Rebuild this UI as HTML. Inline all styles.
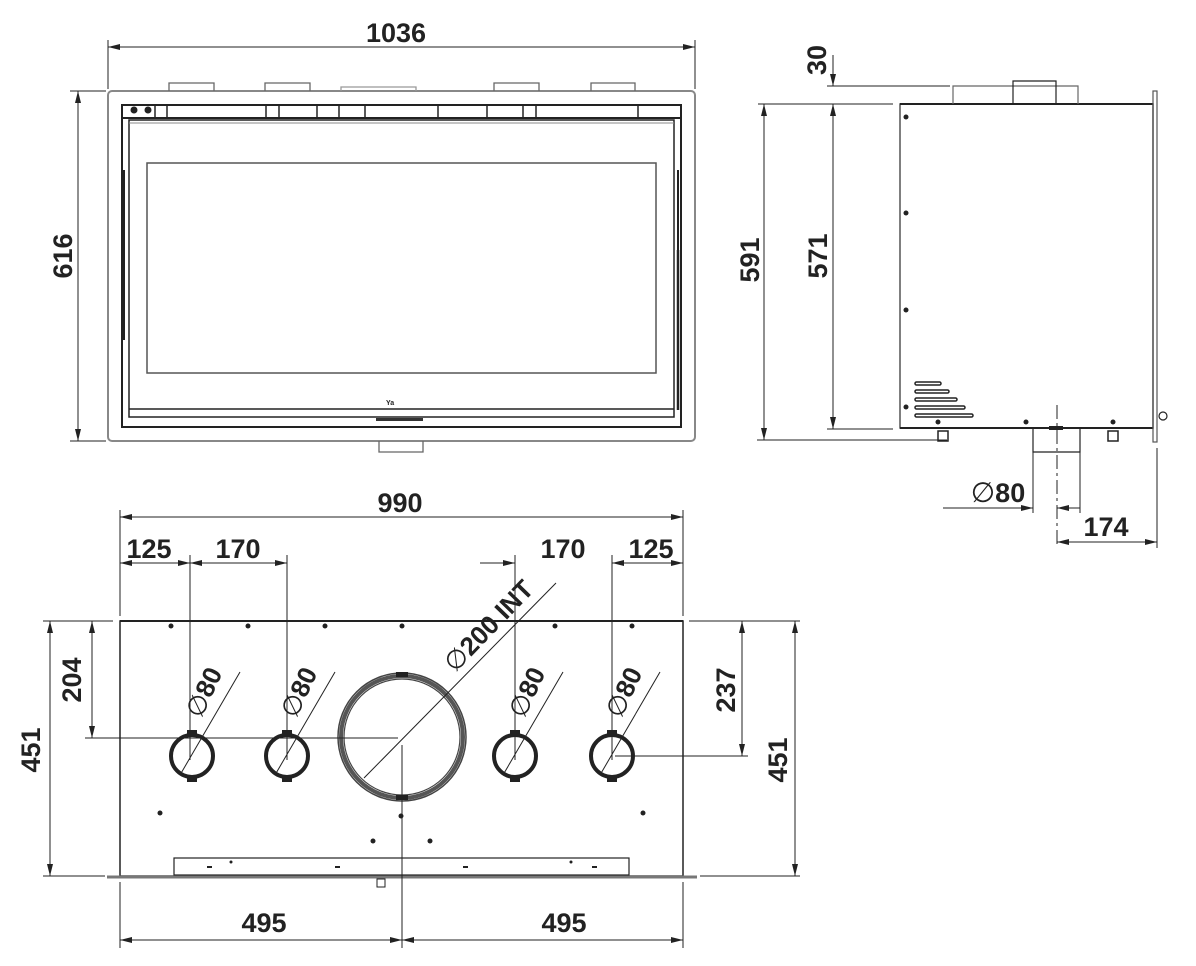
<!DOCTYPE html>
<html><head><meta charset="utf-8"><style>
html,body{margin:0;padding:0;background:#fff}
svg{display:block}
text{font-family:"Liberation Sans",Arial,sans-serif;font-weight:bold;fill:#222}
</style></head><body>
<svg width="1196" height="966" viewBox="0 0 1196 966" xmlns="http://www.w3.org/2000/svg">
<defs>
<marker id="a" viewBox="0 0 12 6" refX="12" refY="3" markerWidth="12" markerHeight="6" orient="auto-start-reverse" markerUnits="userSpaceOnUse"><path d="M0,0 L12,3 L0,6 z" fill="#222"/></marker>
</defs>
<g stroke="#222" stroke-width="1" fill="none">
<rect x="108" y="91" width="587" height="350" rx="4" stroke="#888" stroke-width="2"/>
<g stroke="#666" stroke-width="1.3">
<path d="M169,91 V83 H214 V91"/><path d="M265,91 V83 H310 V91"/>
<path d="M341,91 V87 H416 V91" stroke="#999"/>
<path d="M494,91 V83 H539 V91"/><path d="M591,91 V83 H635 V91"/>
<path d="M379,441 V452 H423 V441"/>
</g>
<rect x="122" y="105" width="559" height="322" stroke-width="2"/>
<rect x="129" y="120" width="545" height="297" stroke-width="1.5"/>
<line x1="122" y1="118" x2="681" y2="118" stroke-width="2"/>
<line x1="129" y1="123" x2="674" y2="123" stroke="#888"/>
<g stroke-width="1.5">
<line x1="155" y1="105" x2="155" y2="118"/><line x1="167" y1="105" x2="167" y2="118"/>
<line x1="266" y1="105" x2="266" y2="118"/><line x1="279" y1="105" x2="279" y2="118"/>
<line x1="317" y1="105" x2="317" y2="118"/><line x1="339" y1="105" x2="339" y2="118"/>
<line x1="365" y1="105" x2="365" y2="118"/><line x1="438" y1="105" x2="438" y2="118"/>
<line x1="487" y1="105" x2="487" y2="118"/><line x1="523" y1="105" x2="523" y2="118"/>
<line x1="536" y1="105" x2="536" y2="118"/><line x1="638" y1="105" x2="638" y2="118"/>
</g>
<rect x="147" y="163" width="509" height="210" stroke="#555" stroke-width="1.5"/>
<line x1="129" y1="409" x2="674" y2="409" stroke-width="1.5"/>
<line x1="124" y1="170" x2="124" y2="340" stroke-width="2"/>
<line x1="678" y1="170" x2="678" y2="340" stroke-width="2"/>
<line x1="678" y1="250" x2="678" y2="410" stroke-width="2.5"/>
<rect x="376" y="418" width="47" height="3" fill="#333" stroke="none"/>
<circle cx="134" cy="110" r="3" fill="#222"/><circle cx="148" cy="110" r="3" fill="#222"/>
<line x1="108" y1="40" x2="108" y2="89"/><line x1="695" y1="40" x2="695" y2="89"/>
<line x1="108" y1="47" x2="695" y2="47" marker-start="url(#a)" marker-end="url(#a)"/>
<line x1="70" y1="91" x2="106" y2="91"/><line x1="70" y1="441" x2="106" y2="441"/>
<line x1="78" y1="91" x2="78" y2="441" marker-start="url(#a)" marker-end="url(#a)"/>

<rect x="900" y="104" width="253" height="324" stroke="#555" stroke-width="1.5"/>
<line x1="900" y1="104" x2="1153" y2="104" stroke-width="2"/>
<line x1="900" y1="428" x2="1153" y2="428" stroke-width="2"/>
<rect x="1153" y="91" width="4" height="351" stroke="#555" stroke-width="1.2"/>
<path d="M953,104 V86 H1078 V104" stroke="#666" stroke-width="1.2"/>
<path d="M1013,104 V81 H1056 V104" stroke-width="1.2"/>
<path d="M1033,428 V452 H1080 V428" stroke-width="1.2"/>
<line x1="1033" y1="452" x2="1033" y2="513"/><line x1="1080" y1="452" x2="1080" y2="513"/>
<rect x="938" y="431" width="10" height="10" stroke-width="1.5"/>
<rect x="1108" y="431" width="10" height="10" stroke-width="1.5"/>
<circle cx="1163" cy="416" r="4" stroke-width="1.2"/>
<g stroke-width="1.5">
<rect x="915" y="382" width="26" height="3" rx="1.5"/>
<rect x="915" y="390" width="34" height="3" rx="1.5"/>
<rect x="915" y="398" width="42" height="3" rx="1.5"/>
<rect x="915" y="406" width="50" height="3" rx="1.5"/>
<rect x="915" y="414" width="58" height="3" rx="1.5"/>
</g>
<g fill="#222" stroke="none">
<circle cx="906" cy="117" r="2.5"/><circle cx="906" cy="213" r="2.5"/><circle cx="906" cy="310" r="2.5"/><circle cx="906" cy="407" r="2.5"/>
<circle cx="938" cy="422" r="2.5"/><circle cx="1026" cy="422" r="2.5"/><circle cx="1113" cy="422" r="2.5"/>
<rect x="1049" y="426" width="14" height="4"/>
</g>
<line x1="1057" y1="405" x2="1057" y2="548" stroke-dasharray="14,4,3,4"/>
<line x1="1157" y1="448" x2="1157" y2="548"/>
<line x1="827" y1="86" x2="950" y2="86"/>
<line x1="758" y1="104" x2="893" y2="104"/>
<line x1="827" y1="429" x2="893" y2="429"/>
<line x1="757" y1="440" x2="947" y2="440"/>
<line x1="833" y1="55" x2="833" y2="86" marker-end="url(#a)"/>
<line x1="833" y1="104" x2="833" y2="429" marker-start="url(#a)" marker-end="url(#a)"/>
<line x1="764" y1="104" x2="764" y2="440" marker-start="url(#a)" marker-end="url(#a)"/>
<line x1="943" y1="508" x2="1033" y2="508" marker-end="url(#a)"/>
<line x1="1057" y1="508" x2="1080" y2="508" marker-start="url(#a)"/>
<line x1="1057" y1="542" x2="1157" y2="542" marker-start="url(#a)" marker-end="url(#a)"/>

<rect x="120" y="621" width="563" height="255" stroke-width="1.5"/>
<line x1="120" y1="621" x2="683" y2="621" stroke-width="2"/>
<line x1="107" y1="877" x2="697" y2="877" stroke="#777" stroke-width="3"/>
<rect x="174" y="858" width="455" height="17" stroke-width="1.2"/>
<rect x="377" y="879" width="8" height="8" stroke-width="1"/>
<g fill="#222" stroke="none">
<circle cx="171" cy="626" r="2.5"/><circle cx="248" cy="626" r="2.5"/><circle cx="325" cy="626" r="2.5"/><circle cx="402" cy="626" r="2.5"/><circle cx="555" cy="626" r="2.5"/><circle cx="632" cy="626" r="2.5"/>
<circle cx="160" cy="813" r="2.5"/><circle cx="643" cy="813" r="2.5"/><circle cx="401" cy="816" r="2.5"/>
<circle cx="373" cy="841" r="2.5"/><circle cx="430" cy="841" r="2.5"/>
<circle cx="231" cy="862" r="1.5"/><circle cx="571" cy="862" r="1.5"/>
<rect x="207" y="866" width="5" height="2"/><rect x="335" y="866" width="5" height="2"/><rect x="463" y="866" width="5" height="2"/><rect x="592" y="866" width="5" height="2"/>
</g>
<circle cx="402" cy="737" r="64" stroke="#444" stroke-width="1.5"/>
<circle cx="402" cy="737" r="61" stroke="#555" stroke-width="4"/>
<circle cx="402" cy="737" r="58" stroke="#444" stroke-width="1.2"/>
<rect x="396" y="672" width="12" height="5" fill="#222" stroke="none"/>
<rect x="396" y="795" width="12" height="5" fill="#222" stroke="none"/>
<g stroke-width="4">
<circle cx="192" cy="756" r="21"/><circle cx="287" cy="756" r="21"/><circle cx="515" cy="756" r="21"/><circle cx="612" cy="756" r="21"/>
</g>
<g fill="#222" stroke="none">
<rect x="187" y="730" width="10" height="6"/><rect x="187" y="776" width="10" height="6"/>
<rect x="282" y="730" width="10" height="6"/><rect x="282" y="776" width="10" height="6"/>
<rect x="510" y="730" width="10" height="6"/><rect x="510" y="776" width="10" height="6"/>
<rect x="607" y="730" width="10" height="6"/><rect x="607" y="776" width="10" height="6"/>
</g>
<line x1="180" y1="775" x2="240" y2="672"/>
<line x1="275" y1="775" x2="335" y2="672"/>
<line x1="503" y1="775" x2="563" y2="672"/>
<line x1="600" y1="775" x2="660" y2="672"/>
<line x1="364" y1="778" x2="556" y2="583"/>
<line x1="85" y1="738" x2="398" y2="738"/>
<line x1="402" y1="745" x2="402" y2="948"/>
<line x1="615" y1="756" x2="748" y2="756"/>
<line x1="190" y1="555" x2="190" y2="760"/>
<line x1="287" y1="555" x2="287" y2="760"/>
<line x1="515" y1="555" x2="515" y2="760"/>
<line x1="612" y1="555" x2="612" y2="760"/>
<line x1="120" y1="510" x2="120" y2="616"/><line x1="683" y1="510" x2="683" y2="616"/>
<line x1="120" y1="517" x2="683" y2="517" marker-start="url(#a)" marker-end="url(#a)"/>
<line x1="120" y1="563" x2="190" y2="563" marker-start="url(#a)" marker-end="url(#a)"/>
<line x1="190" y1="563" x2="287" y2="563" marker-start="url(#a)" marker-end="url(#a)"/>
<line x1="480" y1="563" x2="515" y2="563" marker-end="url(#a)"/>
<line x1="612" y1="563" x2="683" y2="563" marker-start="url(#a)" marker-end="url(#a)"/>
<line x1="43" y1="621" x2="113" y2="621"/>
<line x1="43" y1="876" x2="105" y2="876"/>
<line x1="92" y1="621" x2="92" y2="738" marker-start="url(#a)" marker-end="url(#a)"/>
<line x1="50" y1="621" x2="50" y2="876" marker-start="url(#a)" marker-end="url(#a)"/>
<line x1="689" y1="621" x2="800" y2="621"/>
<line x1="700" y1="876" x2="800" y2="876"/>
<line x1="742" y1="621" x2="742" y2="756" marker-start="url(#a)" marker-end="url(#a)"/>
<line x1="795" y1="621" x2="795" y2="876" marker-start="url(#a)" marker-end="url(#a)"/>
<line x1="120" y1="882" x2="120" y2="948"/><line x1="683" y1="882" x2="683" y2="948"/>
<line x1="120" y1="940" x2="402" y2="940" marker-start="url(#a)" marker-end="url(#a)"/>
<line x1="402" y1="940" x2="683" y2="940" marker-start="url(#a)" marker-end="url(#a)"/>
</g>

<g font-size="27" text-anchor="middle">
<text x="396" y="42">1036</text>
<text transform="translate(72,256) rotate(-90)">616</text>
<text transform="translate(826,60) rotate(-90)">30</text>
<text transform="translate(759,260) rotate(-90)">591</text>
<text transform="translate(827,256) rotate(-90)">571</text>
<text x="998" y="502"><tspan font-weight="normal" font-size="28">∅</tspan>80</text>
<text x="1106" y="536">174</text>
<text x="400" y="512">990</text>
<text x="149" y="558">125</text>
<text x="238" y="558">170</text>
<text x="563" y="558">170</text>
<text x="651" y="558">125</text>
<text transform="translate(81,680) rotate(-90)">204</text>
<text transform="translate(40,750) rotate(-90)">451</text>
<text transform="translate(735,690) rotate(-90)">237</text>
<text transform="translate(787,760) rotate(-90)">451</text>
<text x="264" y="932">495</text>
<text x="564" y="932">495</text>
</g>
<g font-size="26" text-anchor="middle">
<text transform="translate(212,696) rotate(-65)"><tspan font-weight="normal">∅</tspan>80</text>
<text transform="translate(307,696) rotate(-65)"><tspan font-weight="normal">∅</tspan>80</text>
<text transform="translate(535,696) rotate(-65)"><tspan font-weight="normal">∅</tspan>80</text>
<text transform="translate(632,696) rotate(-65)"><tspan font-weight="normal">∅</tspan>80</text>
<text transform="translate(495,632) rotate(-46)"><tspan font-weight="normal">∅</tspan>200 INT</text>
</g>
<text x="386" y="405" font-size="7">Ya</text>
</svg>
</body></html>
